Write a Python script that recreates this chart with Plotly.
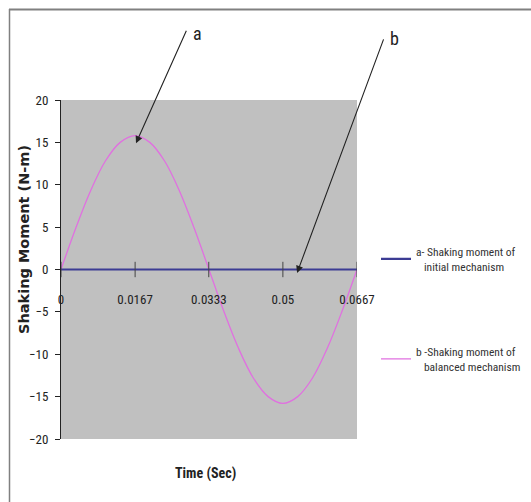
import plotly.graph_objects as go

# ---- data ----
time_s = [0, 0.00334, 0.00667, 0.01, 0.01334, 0.01667, 0.02, 0.02334, 0.02667, 0.03,
          0.03334, 0.03667, 0.04, 0.04334, 0.04667, 0.05, 0.05334, 0.05667, 0.06,
          0.06334, 0.0667]
moment_initial = [0] * len(time_s)
moment_balanced = [0, 4.9, 9.3, 12.8, 15.0, 15.8, 15.0, 12.8, 9.3, 4.9,
                   0, -4.9, -9.3, -12.8, -15.0, -15.8, -15.0, -12.8, -9.3, -4.9, 0]
x_tickvals = [0, 0.0167, 0.0333, 0.05, 0.0667]
x_ticktext = ["0", "0.0167", "0.0333", "0.05", "0.0667"]
y_tickvals = [-20, -15, -10, -5, 0, 5, 10, 15, 20]
name_a = "a- Shaking moment of<br>   initial mechanism"
name_b = "b -Shaking moment of<br>   balanced mechanism"

NARROW = "Liberation Sans Narrow, Arial Narrow, Roboto Condensed, DejaVu Sans Condensed, sans-serif"

fig = go.Figure()

fig.add_trace(go.Scatter(
    x=time_s, y=moment_balanced, mode="lines", name=name_b,
    line=dict(color="#e070e0", width=1.3, shape="spline"),
    legend="legend2"))
fig.add_trace(go.Scatter(
    x=time_s, y=moment_initial, mode="lines", name=name_a,
    line=dict(color="#3c3c94", width=2.2),
    legend="legend"))
# cross tick marks on the zero line
fig.add_trace(go.Scatter(
    x=x_tickvals, y=[0] * len(x_tickvals), mode="markers", showlegend=False,
    hoverinfo="skip",
    marker=dict(symbol="line-ns-open", size=11, color="#444",
                line=dict(color="#444", width=1))))

L, R, T, B = 61, 174, 100, 63
W, H = 531, 502
pw, ph = W - L - R, H - T - B

def px(xp):
    return (xp - L) / pw

def py(yp):
    return (H - B - yp) / ph

fig.update_layout(
    width=W, height=H,
    margin=dict(l=L, r=R, t=T, b=B, autoexpand=False),
    paper_bgcolor="white",
    plot_bgcolor="#c0c0c0",
    font=dict(family=NARROW, size=12, color="#222"),
    xaxis=dict(range=[0, 0.0667], tickvals=x_tickvals, ticktext=x_ticktext,
               showgrid=False, zeroline=False, showline=False, ticks="",
               anchor="free", position=py(269.5), ticklabelstandoff=20,
               automargin=False,
               tickfont=dict(family=NARROW, size=13, color="#222")),
    yaxis=dict(range=[-20, 20], tickvals=y_tickvals, showgrid=False, zeroline=False,
               showline=True, linecolor="#222", linewidth=1, ticks="outside",
               ticklen=5, tickcolor="#222", ticklabelstandoff=4, automargin=False,
               tickfont=dict(family=NARROW, size=13, color="#222")),
    legend=dict(x=px(376), y=py(259), xanchor="left", yanchor="middle",
                bgcolor="rgba(0,0,0,0)", font=dict(family=NARROW, size=11.5, color="#333")),
    legend2=dict(x=px(376), y=py(359), xanchor="left", yanchor="middle",
                 bgcolor="rgba(0,0,0,0)", font=dict(family=NARROW, size=11.5, color="#333")),
    showlegend=True,
)

# outer frame lines (top and left)
fig.add_shape(type="line", xref="paper", yref="paper",
              x0=px(9), x1=px(531), y0=py(9.5), y1=py(9.5),
              line=dict(color="#808080", width=2))
fig.add_shape(type="line", xref="paper", yref="paper",
              x0=px(9.5), x1=px(9.5), y0=py(9), y1=py(502),
              line=dict(color="#808080", width=1.5))

# arrows
fig.add_annotation(x=0.0169, y=14.9, xref="x", yref="y", text="", showarrow=True,
                   ax=51, ay=-114, arrowhead=2, arrowsize=1.3, arrowwidth=1.1,
                   arrowcolor="#222")
fig.add_annotation(x=0.0532, y=-0.4, xref="x", yref="y", text="", showarrow=True,
                   ax=87, ay=-235, arrowhead=2, arrowsize=1.3, arrowwidth=1.1,
                   arrowcolor="#222")
# labels a and b
fig.add_annotation(x=px(197.5), y=py(34), xref="paper", yref="paper", text="a",
                   xanchor="center", yanchor="middle",
                   showarrow=False, font=dict(family=NARROW, size=18, color="#222"))
fig.add_annotation(x=px(394.5), y=py(38), xref="paper", yref="paper", text="b",
                   xanchor="center", yanchor="middle",
                   showarrow=False, font=dict(family=NARROW, size=18, color="#222"))

# axis titles
fig.add_annotation(x=px(24), y=py(240), xref="paper", yref="paper",
                   xanchor="center", yanchor="middle",
                   text="<b>Shaking Moment (N-m)</b>", textangle=-90, showarrow=False,
                   font=dict(family="DejaVu Sans, sans-serif", size=14.5, color="#222"))
fig.add_annotation(x=px(205), y=py(473), xref="paper", yref="paper",
                   xanchor="center", yanchor="middle",
                   text="<b>Time (Sec)</b>", showarrow=False,
                   font=dict(family=NARROW, size=14, color="#222"))

fig.write_html("out.html",
               config={"displayModeBar": False},
               post_script="document.body.style.margin='0';document.body.style.padding='0';")
